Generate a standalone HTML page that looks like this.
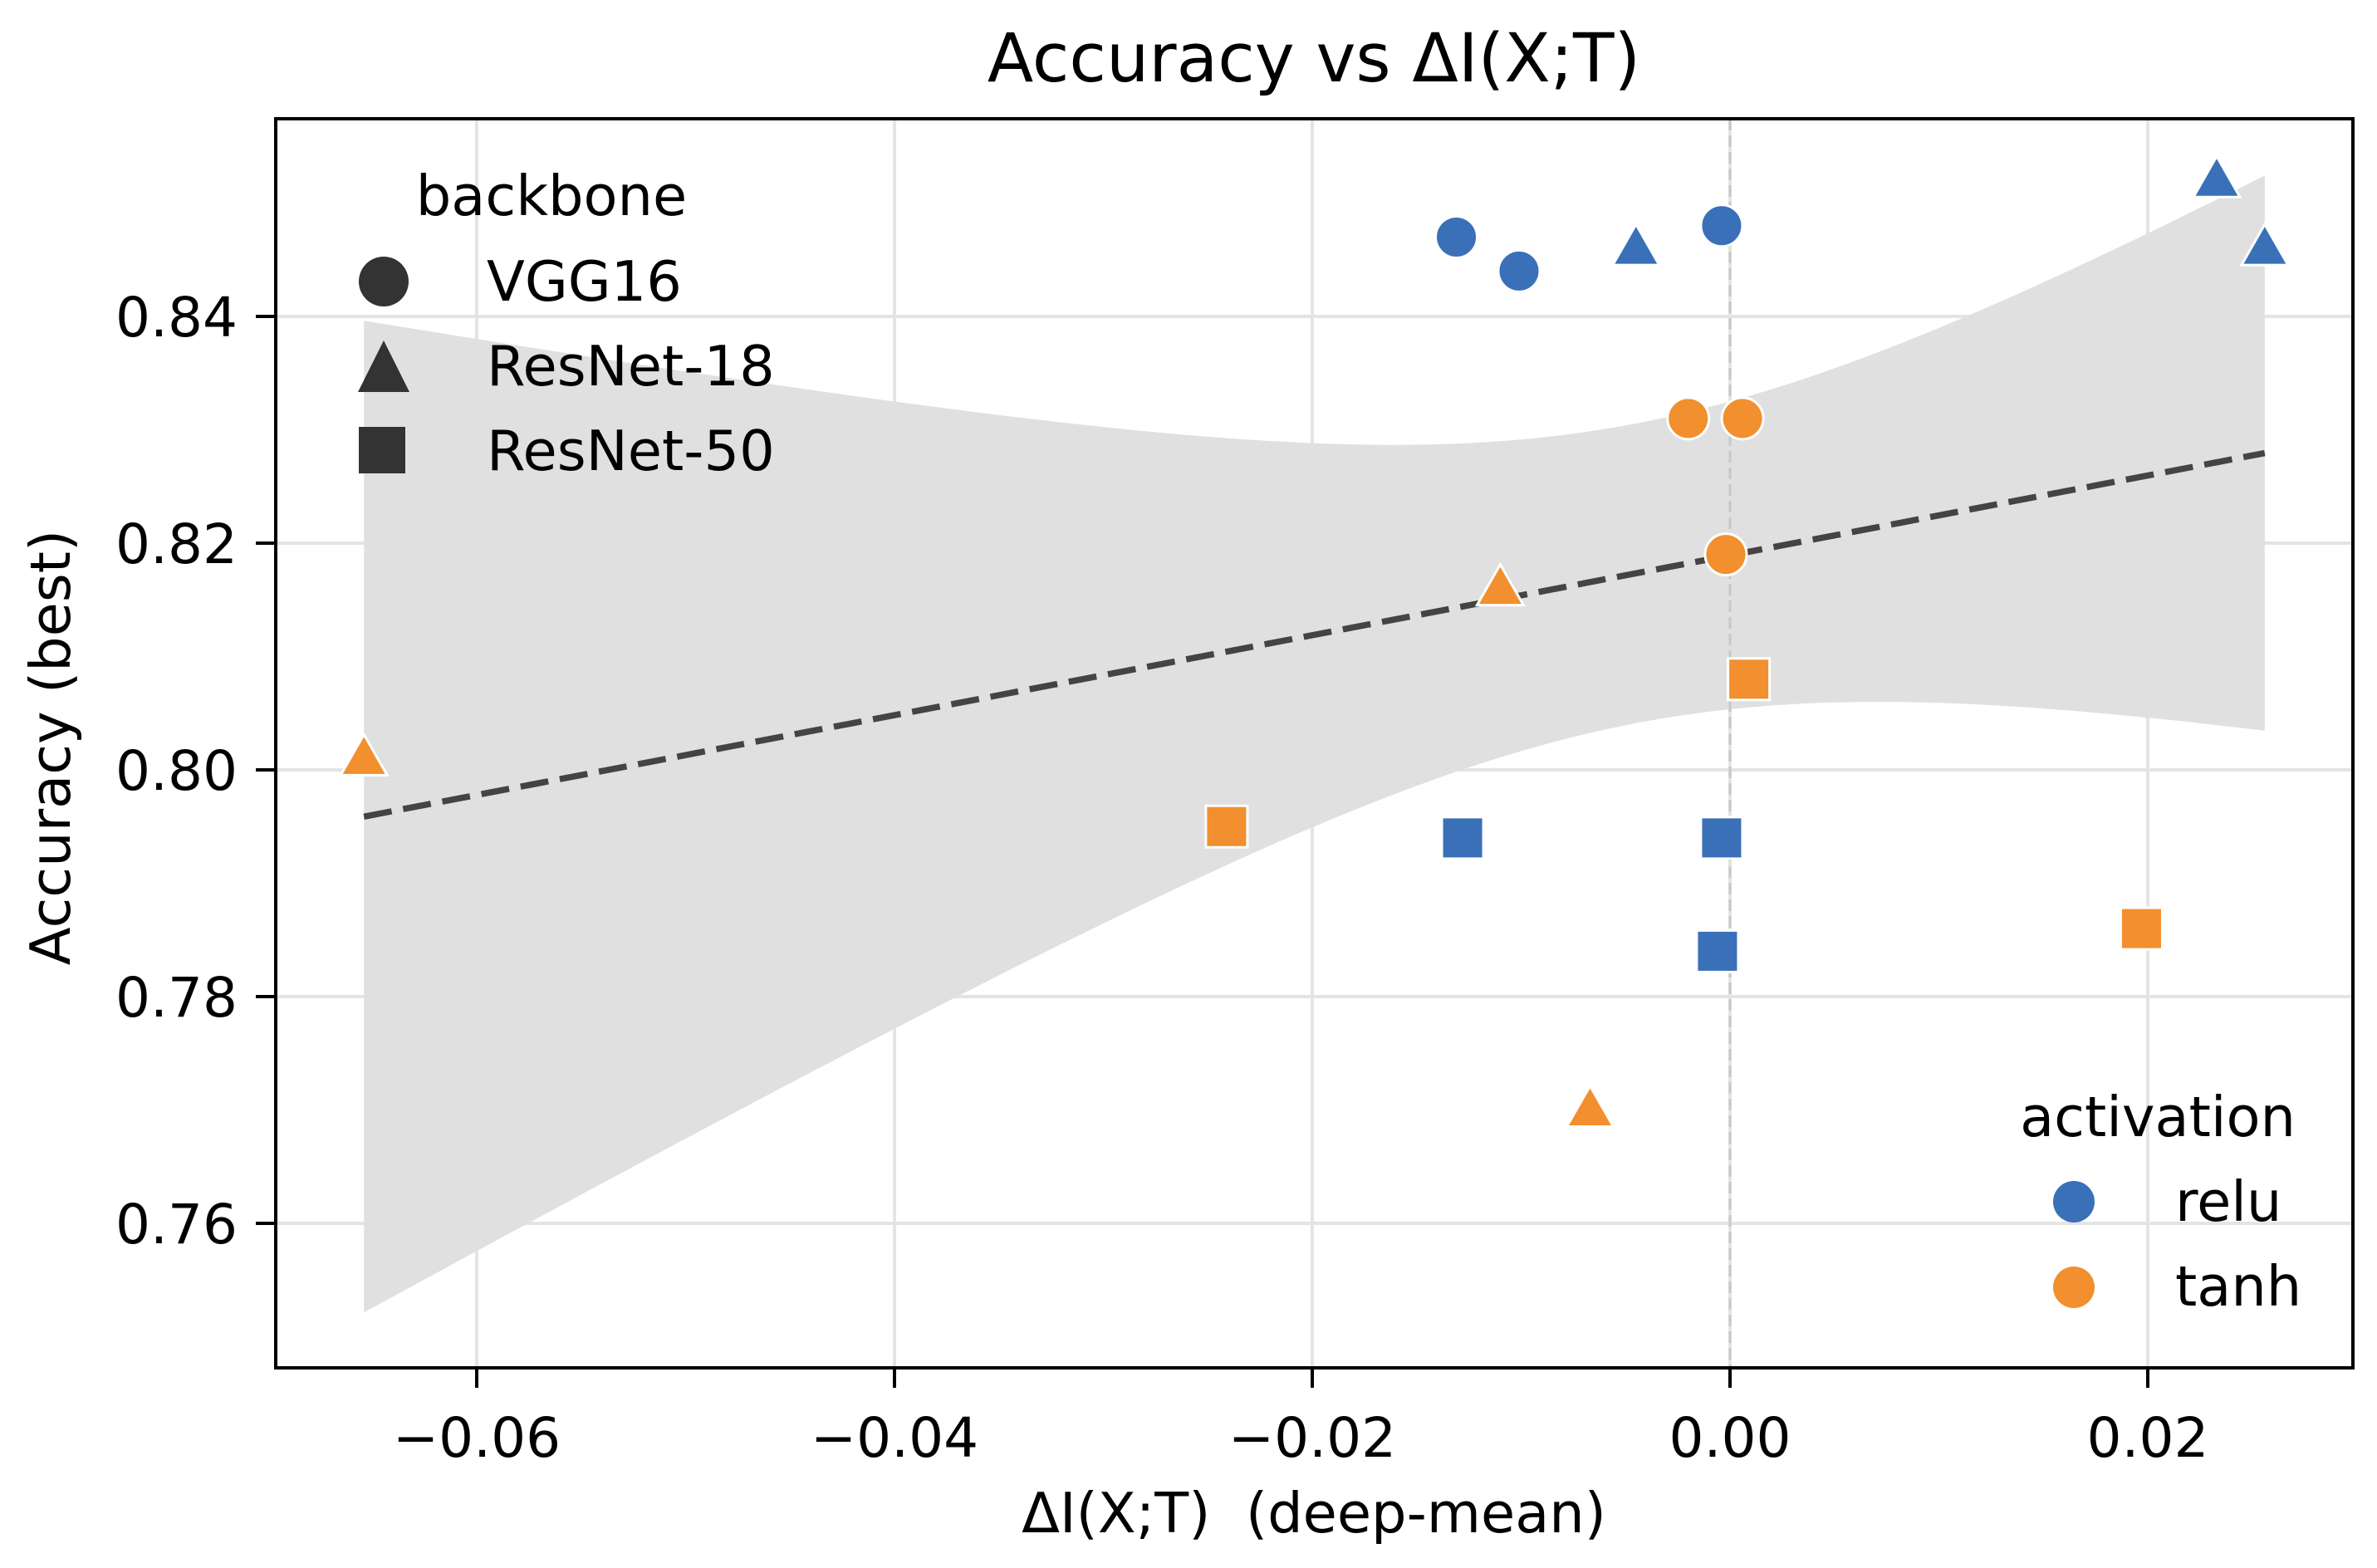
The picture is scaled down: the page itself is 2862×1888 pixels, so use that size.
<!DOCTYPE html>
<html><head><meta charset="utf-8"><style>
html,body{margin:0;padding:0;background:#fff;}
svg{display:block;font-family:"DejaVu Sans","Liberation Sans",sans-serif;}
</style></head><body>
<svg id="chart" width="2862" height="1888" viewBox="0 0 2862 1888" xmlns="http://www.w3.org/2000/svg">
<rect width="2862" height="1888" fill="#fff"/>
<g id="grid"></g>
<g id="band"></g>
<g id="zero"></g>
<g id="reg"></g>
<g id="points"></g>
<g id="axes"></g>
<text x="1582" y="98" font-size="81" text-anchor="middle">Accuracy vs ΔI(X;T)</text>
<text x="1582" y="1845" font-size="67" text-anchor="middle">ΔI(X;T)&#160;&#160;(deep-mean)</text>
<text x="0" y="0" font-size="67" text-anchor="middle" transform="translate(84,900) rotate(-90)">Accuracy (best)</text>
<g id="legend1">
<text x="664" y="259" font-size="67" text-anchor="middle">backbone</text>
<circle cx="462" cy="339" r="30" fill="#333"/>
<text x="586" y="362" font-size="67">VGG16</text>
<polygon points="462,410 431,472 493,472" fill="#333"/>
<text x="586" y="464" font-size="67">ResNet-18</text>
<rect x="432" y="514" width="56" height="56" fill="#333"/>
<text x="586" y="566" font-size="67">ResNet-50</text>
</g>
<g id="legend2">
<text x="2598" y="1368" font-size="67" text-anchor="middle">activation</text>
<circle cx="2497" cy="1447" r="25" fill="#3a70b8"/>
<text x="2619" y="1470" font-size="67">relu</text>
<circle cx="2497" cy="1550" r="25" fill="#f28f2e"/>
<text x="2619" y="1572" font-size="67">tanh</text>
</g>
</svg>
<script>
const xTicks = [-0.06, -0.04, -0.02, 0.00, 0.02];
const xTickLabels = ["\u22120.06", "\u22120.04", "\u22120.02", "0.00", "0.02"];
const yTicks = [0.76, 0.78, 0.80, 0.82, 0.84];
const yTickLabels = ["0.76", "0.78", "0.80", "0.82", "0.84"];
const xValues = [-0.0131, -0.0101, -0.0004, -0.0045, 0.0233, 0.0256, -0.0128, -0.0004, -0.0006,
                 -0.0020, 0.0006, -0.0002, -0.0654, -0.0110, -0.0067, -0.0241, 0.0009, 0.0197];
const yValues = [0.847, 0.844, 0.848, 0.846, 0.852, 0.846, 0.794, 0.794, 0.784,
                 0.831, 0.831, 0.819, 0.801, 0.816, 0.770, 0.795, 0.808, 0.786];
const activations = ["relu","relu","relu","relu","relu","relu","relu","relu","relu",
                     "tanh","tanh","tanh","tanh","tanh","tanh","tanh","tanh","tanh"];
const backbones = ["VGG16","VGG16","VGG16","ResNet-18","ResNet-18","ResNet-18","ResNet-50","ResNet-50","ResNet-50",
                   "VGG16","VGG16","VGG16","ResNet-18","ResNet-18","ResNet-18","ResNet-50","ResNet-50","ResNet-50"];

const NS = "http://www.w3.org/2000/svg";
const L = 332, R = 2833, T = 143, B = 1647;
function sx(v){ return 2083 + v / 0.02 * 503; }
function sy(v){ return 381 + (0.84 - v) / 0.02 * 273; }
function mk(tag, attrs, parent){
  const e = document.createElementNS(NS, tag);
  for (const k in attrs) e.setAttribute(k, attrs[k]);
  parent.appendChild(e);
  return e;
}
const grid = document.getElementById('grid');
xTicks.forEach(v => {
  const l = mk('line', {x1:sx(v), x2:sx(v), y1:T, y2:B, stroke:'#e4e4e4', 'stroke-width':4}, grid);
  
  
});
yTicks.forEach(v => {
  const l = mk('line', {x1:L, x2:R, y1:sy(v), y2:sy(v), stroke:'#e4e4e4', 'stroke-width':4}, grid);
  
  
});

const n = xValues.length;
const mx = xValues.reduce((a,b)=>a+b,0)/n, my = yValues.reduce((a,b)=>a+b,0)/n;
let sxx=0, sxy=0;
for (let i=0;i<n;i++){ sxx += (xValues[i]-mx)**2; sxy += (xValues[i]-mx)*(yValues[i]-my); }
const slope = sxy/sxx, icpt = my - slope*mx;
let sse=0; for (let i=0;i<n;i++){ sse += (yValues[i]-(icpt+slope*xValues[i]))**2; }
const s = Math.sqrt(sse/(n-2)), tcrit = 2.12;
const xmin = Math.min(...xValues), xmax = Math.max(...xValues);
const up=[], lo=[];
for (let k=0;k<=100;k++){
  const x = xmin + (xmax-xmin)*k/100;
  const yh = icpt + slope*x;
  const h = tcrit*s*Math.sqrt(1/n + (x-mx)**2/sxx);
  up.push(sx(x).toFixed(1)+','+sy(yh+h).toFixed(1));
  lo.unshift(sx(x).toFixed(1)+','+sy(yh-h).toFixed(1));
}
const band = mk('polygon', {points: up.concat(lo).join(' '), fill:'#e0e0e0'}, document.getElementById('band'));



const z = mk('line', {x1:sx(0), x2:sx(0), y1:T, y2:B, stroke:'#c8c8c8', 'stroke-width':3, 'stroke-dasharray':'14,6'}, document.getElementById('zero'));



const rl = mk('line', {x1:sx(xmin), y1:sy(icpt+slope*xmin), x2:sx(xmax), y2:sy(icpt+slope*xmax), stroke:'#444', 'stroke-width':7.5, 'stroke-dasharray':'34,14'}, document.getElementById('reg'));



const pts = document.getElementById('points');
for (let i=0;i<n;i++){
  const cx = sx(xValues[i]), cy = sy(yValues[i]);
  const col = activations[i]==='relu' ? '#3a70b8' : '#f28f2e';
  const st = {fill:col, stroke:'#fff', 'stroke-width':3};
  let e;
  if (backbones[i]==='VGG16') e = mk('circle', Object.assign({cx:cx, cy:cy, r:25}, st), pts);
  else if (backbones[i]==='ResNet-18') e = mk('polygon', Object.assign({points:`${cx},${cy-29} ${cx-28},${cy+20} ${cx+28},${cy+20}`}, st), pts);
  else e = mk('rect', Object.assign({x:cx-25, y:cy-25, width:50, height:50}, st), pts);
  
  
}

const axes = document.getElementById('axes');
const fr = mk('rect', {x:L, y:T, width:R-L, height:B-T, fill:'none', stroke:'#000', 'stroke-width':4}, axes);


xTicks.forEach((v,i) => {
  const t = mk('line', {x1:sx(v), x2:sx(v), y1:B, y2:B+24, stroke:'#000', 'stroke-width':4}, axes);
  
  
  const tx = mk('text', {x:sx(v), y:1754, 'font-size':66, 'text-anchor':'middle'}, axes);
  tx.textContent = xTickLabels[i];
  
  
});
yTicks.forEach((v,i) => {
  const t = mk('line', {x1:L-24, x2:L, y1:sy(v), y2:sy(v), stroke:'#000', 'stroke-width':4}, axes);
  
  
  const tx = mk('text', {x:286, y:sy(v)+24, 'font-size':66, 'text-anchor':'end'}, axes);
  tx.textContent = yTickLabels[i];
  
  
});
</script>
</body></html>
